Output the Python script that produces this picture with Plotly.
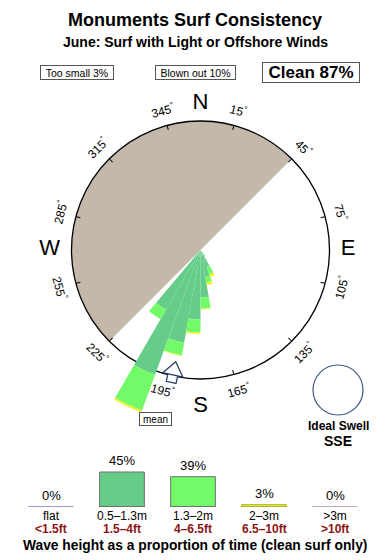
import math
import plotly.graph_objects as go

W, H = 390, 560
FONT = "Liberation Sans, Arial, Helvetica, sans-serif"

# ---------------- data ----------------
directions = [145, 155, 165, 175, 185, 195, 205, 215]          # swell direction bins (deg)
bin_width = 10
r_0p5_1p3 = [3, 14, 21, 37, 54, 73, 103, 53.5]                # 0.5-1.3m (radius units, ring = 100)
r_1p3_2 = [2.5, 6, 4.6, 8.5, 10, 10, 29.5, 8.5]               # 1.3-2m
r_2_3 = [0, 2.3, 2, 0.5, 1.2, 0.6, 1.5, 0]                    # 2-3m

onshore_from, onshore_to = 225, 45                            # blown-out wind sector
mean_dir = 192.5
ideal_swell = "SSE"

height_m = ["flat", "0.5–1.3m", "1.3–2m", "2–3m", ">3m"]
height_ft = ["<1.5ft", "1.5–4ft", "4–6.5ft", "6.5–10ft", ">10ft"]
height_pct = [0, 45, 39, 3, 0]

compass_ticks = [15, 45, 75, 105, 135, 165, 195, 225, 255, 285, 315, 345]
cardinals = ["N", "E", "S", "W"]
cardinal_deg = [0, 90, 180, 270]
cardinal_r = [113.5, 114.5, 121, 117]

too_small, blown_out, clean = 3, 10, 87

# ---------------- styles ----------------
c_small = "#66cc8a"
c_mid = "#72fa68"
c_big = "#f0f030"
bar_fill = ["#9a9ac8", c_small, c_mid, c_big, "#d0a8a8"]
bar_line = ["#9a9ac8", "#707070", "#707070", "#a9b52c", "#c8a8a8"]
arrow_col = "#223a5e"

# geometry (pixels)
cx, cy_top = 200.5, 250.0
cy = H - cy_top
ring_px = 129.0
outer_units = 140.0
outer_px = ring_px * outer_units / 100.0

fig = go.Figure()

# blown-out sector (polar 1)
sector_w = (onshore_to - onshore_from) % 360
sector_c = (onshore_from + sector_w / 2) % 360
fig.add_trace(go.Barpolar(r=[1], theta=[sector_c], width=[sector_w],
                          marker=dict(color="#c4b8ab", line=dict(width=0)),
                          subplot="polar", hoverinfo="skip"))

# rose petals (polar 2)
for vals, col in [(r_0p5_1p3, c_small), (r_1p3_2, c_mid), (r_2_3, c_big)]:
    fig.add_trace(go.Barpolar(r=vals, theta=directions, width=[bin_width] * len(directions),
                              marker=dict(color=col, line=dict(width=0)),
                              subplot="polar2", hoverinfo="skip"))

# cardinal letters
fig.add_trace(go.Scatterpolar(r=cardinal_r, theta=cardinal_deg, text=cardinals, mode="text",
                              textfont=dict(size=22, color="black", family=FONT),
                              subplot="polar2", hoverinfo="skip"))

# mean direction arrow (stem + head, pointing to the centre)
point_in = (mean_dir - 180) % 360
fig.add_trace(go.Scatterpolar(r=[101.2], theta=[mean_dir], mode="markers",
                              marker=dict(symbol="square", size=10, color="white",
                                          angle=point_in,
                                          line=dict(color=arrow_col, width=1.2)),
                              subplot="polar2", hoverinfo="skip"))
fig.add_trace(go.Scatterpolar(r=[95.7], theta=[mean_dir], mode="markers",
                              marker=dict(symbol="triangle-up", size=18, color="white",
                                          angle=point_in,
                                          line=dict(color=arrow_col, width=1.2)),
                              subplot="polar2", hoverinfo="skip"))

# wave height bars
fig.add_trace(go.Bar(x=height_m, y=height_pct, width=0.63,
                     marker=dict(color=bar_fill, line=dict(color=bar_line, width=1)),
                     xaxis="x", yaxis="y", hoverinfo="skip"))

def dom(half_px):
    return dict(x=[(cx - half_px) / W, (cx + half_px) / W],
                y=[(cy - half_px) / H, (cy + half_px) / H])

fig.update_layout(
    width=W, height=H, margin=dict(l=0, r=0, t=0, b=0),
    paper_bgcolor="white", plot_bgcolor="white", showlegend=False,
    font=dict(family=FONT, color="black"),
    polar=dict(domain=dom(ring_px), bgcolor="white",
               radialaxis=dict(visible=False, range=[0, 1]),
               angularaxis=dict(rotation=90, direction="clockwise", tickmode="array",
                                tickvals=compass_ticks, ticks="inside", ticklen=4,
                                tickcolor="black", showticklabels=False, showgrid=False,
                                linecolor="black", linewidth=1.3)),
    polar2=dict(domain=dom(outer_px), bgcolor="rgba(0,0,0,0)",
                radialaxis=dict(visible=False, range=[0, outer_units]),
                angularaxis=dict(visible=False, rotation=90, direction="clockwise")),
    xaxis=dict(domain=[15.5 / W, 370.5 / W], type="category", showline=False, ticks="",
               showgrid=False, zeroline=False, tickfont=dict(size=12, family=FONT),
               anchor="y", fixedrange=True),
    yaxis=dict(domain=[(H - 507) / H, (H - 507 + 77.8) / H], range=[0, 100],
               visible=False, fixedrange=True),
    bargap=0.37,
)

ann = []
def A(x, y, text, size, bold=False, **kw):
    t = f"<b>{text}</b>" if bold else text
    d = dict(x=x / W, y=1 - y / H, xref="paper", yref="paper", text=t, showarrow=False,
             font=dict(size=size, family=FONT, color=kw.pop("color", "black")),
             xanchor="center", yanchor="middle")
    d.update(kw)
    ann.append(d)

box = dict(bordercolor="#555", borderwidth=1, borderpad=0, bgcolor="white")
A(195, 20, "Monuments Surf Consistency", 18, True)
A(195, 42, "June: Surf with Light or Offshore Winds", 14, True)
A(76.5, 73, f"Too small {too_small}%", 10.5, width=72, height=13, **box)
A(195, 73, f"Blown out {blown_out}%", 10.5, width=79, height=13, **box)
A(311, 73, f"Clean {clean}%", 17, True, width=96, height=19, **box)
A(155, 418.5, "mean", 10, width=31, height=12, **box)
A(338, 426, "Ideal Swell", 12, True)
A(338, 441, ideal_swell, 14, True)
A(194.5, 545, "Wave height as a proportion of time (clean surf only)", 13.8, True)

# rotated compass tick labels
lab_r = 145.0
for d in compass_ticks:
    rad = math.radians(d)
    px = cx + lab_r * math.sin(rad)
    py = cy + lab_r * math.cos(rad)
    ang = ((d + 90) % 180) - 90
    ann.append(dict(x=px / W, y=py / H, xref="paper", yref="paper",
                    text=f"{d}<sup>°</sup>", showarrow=False, textangle=ang,
                    font=dict(size=12, family=FONT), xanchor="center", yanchor="middle"))

# bar percentage labels and ft labels
for lab, p, ft in zip(height_m, height_pct, height_ft):
    ann.append(dict(x=lab, y=p, xref="x", yref="y", text=f"{p}%", showarrow=False,
                    yanchor="bottom", yshift=2, font=dict(size=13, family=FONT)))
    ann.append(dict(x=lab, y=1 - 528.5 / H, xref="x", yref="paper", text=f"<b>{ft}</b>",
                    showarrow=False, yanchor="middle",
                    font=dict(size=12, family=FONT, color="#8c1414")))

fig.update_layout(annotations=ann)

# zero-height baselines for each bin + ideal swell circle
shapes = []
for i, col in enumerate(bar_line):
    shapes.append(dict(type="line", xref="x", yref="y", x0=i - 0.315, x1=i + 0.315,
                       y0=0, y1=0, line=dict(color=col, width=2)))
shapes.append(dict(type="circle", xref="paper", yref="paper",
                   x0=313 / W, x1=363 / W, y0=1 - 415 / H, y1=1 - 365 / H,
                   line=dict(color="#3c5a85", width=1.2)))
fig.update_layout(shapes=shapes)

fig.write_html("out.html")
